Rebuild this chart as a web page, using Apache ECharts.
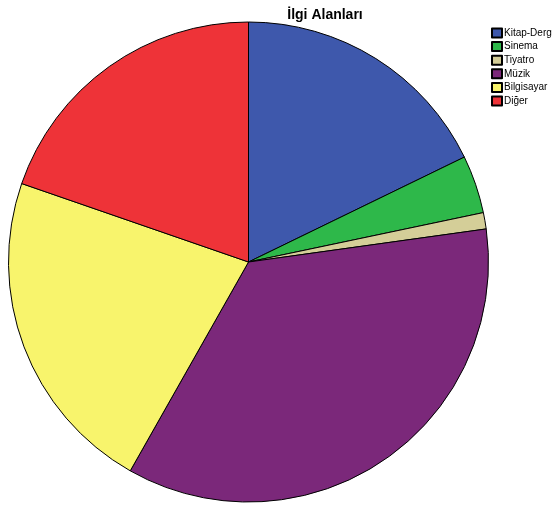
<!DOCTYPE html>
<html><head><meta charset="utf-8">
<script src="https://cdn.jsdelivr.net/npm/echarts@6/dist/echarts.min.js"></script>
<style>html,body{margin:0;padding:0;background:#fff}#c{width:558px;height:506px}</style>
</head><body><div id="c"></div>
<script>
const categories = ['Kitap-Derg','Sinema','Tiyatro','Müzik','Bilgisayar','Diğer'];
const values = [17.8, 3.9, 1.1, 35.4, 22.1, 19.7];
const colors = ['#3E58AC','#2EB84A','#D4CE98','#7B287A','#F8F46C','#EE3338'];
const chart = echarts.init(document.getElementById('c'));
chart.setOption({
  animation:false,
  title:{text:'İlgi Alanları',left:320,top:3,textAlign:'center',textStyle:{fontFamily:'Liberation Sans, Arial',fontSize:14,fontWeight:'bold',color:'#000'}},
  legend:{orient:'vertical',left:491,top:27,padding:0,itemWidth:10,itemHeight:9,itemGap:1.6,icon:'rect',
    textStyle:{fontFamily:'Liberation Sans, Arial',fontSize:10,color:'#000',padding:[0,0,0,-3],lineHeight:12},
    data:categories},
  series:[{type:'pie',center:[248.5,262],radius:[0,240],startAngle:90,clockwise:true,
    label:{show:false},labelLine:{show:false},emphasis:{disabled:true},
    itemStyle:{borderColor:'#000',borderWidth:1},
    data:categories.map((n,i)=>({name:n,value:values[i],itemStyle:{color:colors[i]}}))}]
});
</script></body></html>
